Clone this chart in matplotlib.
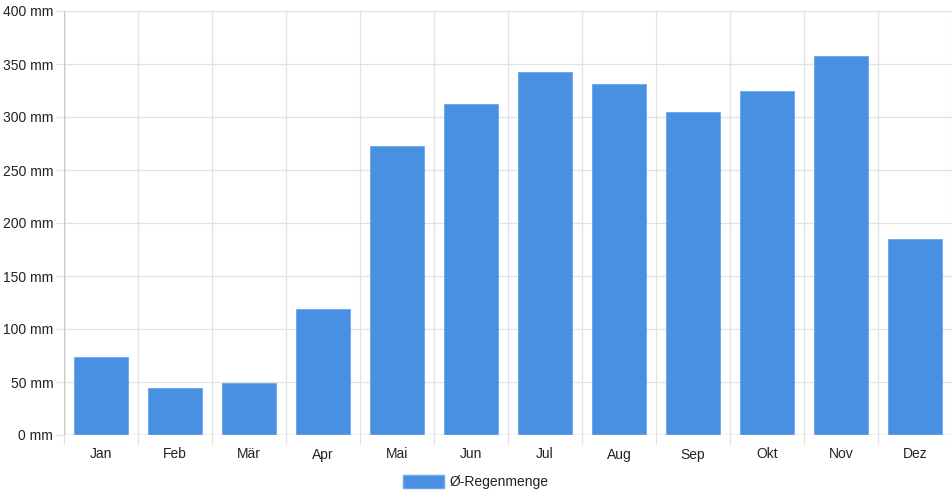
import matplotlib
matplotlib.use("Agg")
import matplotlib.pyplot as plt
import numpy as np
from matplotlib.patches import Patch

months = ["Jan", "Feb", "Mär", "Apr", "Mai", "Jun", "Jul", "Aug", "Sep", "Okt", "Nov", "Dez"]
rain = [74, 44, 49, 119, 273, 312, 342, 331, 305, 325, 358, 185]
yticks = [0, 50, 100, 150, 200, 250, 300, 350, 400]
series_name = "Ø-Regenmenge"

plt.rcParams['font.family'] = ['Liberation Sans', 'DejaVu Sans']

fig = plt.figure(figsize=(9.52, 5.0), dpi=100)
ax = fig.add_axes([64/952, 1-435/500, 1-64/952, (435-11)/500])

x = np.arange(len(months))
ax.bar(x, rain, width=0.72, color="#4a90e2", edgecolor="#6aa5ea", linewidth=0.6, zorder=3)

ax.set_xlim(-0.5, 11.5)
ax.set_ylim(0, 400)

ax.set_yticks(yticks)
ax.set_yticklabels([f"{v} mm" for v in yticks])
ax.set_xticks(x)
ax.set_xticklabels(months)

# grid
for v in yticks:
    ax.axhline(v, color="#e2e2e2", linewidth=0.9, zorder=1)
for b in np.arange(-0.5, 12, 1.0):
    ax.axvline(b, color="#e2e2e2", linewidth=0.9, zorder=1)
    ax.plot([b, b], [0, -0.022], transform=ax.get_xaxis_transform(), color="#e2e2e2",
            linewidth=0.9, clip_on=False)

for s in ax.spines.values():
    s.set_visible(False)
ax.axhline(0, color="#c8c8c8", linewidth=1.0, zorder=4)
ax.axvline(-0.5, color="#c8c8c8", linewidth=1.0, zorder=4)

ax.tick_params(axis='x', length=0, pad=9, labelsize=10, colors="#222222")
ax.tick_params(axis='y', length=5.8, width=0.9, color="#e2e2e2", pad=2, labelsize=10, colors="#222222")

leg = fig.legend(handles=[Patch(facecolor="#4a90e2", edgecolor="#6aa5ea", label=series_name)],
                 loc="center", bbox_to_anchor=(476/952, 1-482/500), frameon=False,
                 fontsize=10, handlelength=2.9, handleheight=1.1, handletextpad=0.45)
for t in leg.get_texts():
    t.set_color("#222222")

fig.savefig("out.png", dpi=100)
